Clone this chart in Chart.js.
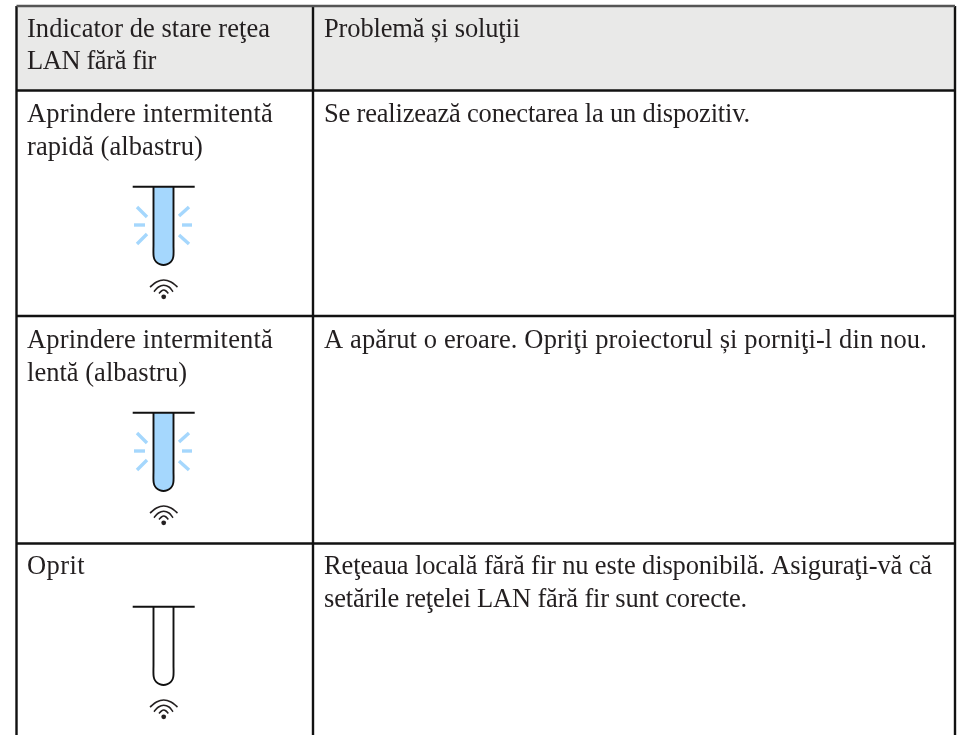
<!DOCTYPE html>
<html>
<head>
<meta charset="utf-8">
<title>Indicator de stare</title>
<script src="https://cdn.jsdelivr.net/npm/chart.js@4"></script>
<style>
  html, body { margin: 0; padding: 0; background: #fff; }
  canvas { display: block; }
</style>
</head>
<body>
<canvas id="tableChart" width="957" height="735"></canvas>
<script>
// table texts
const headerLeft = ["Indicator de stare reţea", "LAN fără fir"];
const headerRight = ["Problemă și soluţii"];
const statusLines = [
  ["Aprindere intermitentă", "rapidă (albastru)"],
  ["Aprindere intermitentă", "lentă (albastru)"],
  ["Oprit"],
];
const solutionLines = [
  ["Se realizează conectarea la un dispozitiv."],
  ["A apărut o eroare. Opriţi proiectorul și porniţi-l din nou."],
  ["Reţeaua locală fără fir nu este disponibilă. Asiguraţi-vă că", "setările reţelei LAN fără fir sunt corecte."],
];

// how wide each text line is in the picture
const headerLeftWidths = [243, 129];
const headerRightWidths = [196];
const statusWidths = [[246, 176], [246, 160], [58]];
const solutionWidths = [[426], [603], [608, 423]];

// table grid, in picture units
const columnEdges = [16.5, 313, 955];
const rowEdges = [6, 90.5, 316, 543.5, 735];
const rowBaselines = [36.7, 122, 348, 574];
const lineStep = 32.6;
const textLeft = [27, 324];

// indicator drawing, first row; the other rows are moved down by indicatorShift
const indicatorShift = [0, 226, 420];
const capX = [132.7, 194.7];
const capY = [186.8, 186.8];
const tubeX = [153.5, 153.5, 153.5, 154.3, 156.4, 159.6, 163.5, 167.4, 170.6, 172.7, 173.5, 173.5, 173.5];
const tubeY = [187, 245, 255, 259, 262.1, 264.2, 265, 264.2, 262.1, 259, 255, 245, 187];
const rayStartX = [137, 134, 137, 189, 182, 189];
const rayStartY = [207, 225, 244, 207, 225, 244];
const rayEndX = [147, 145, 147, 179, 192, 179];
const rayEndY = [217, 225, 234, 216, 225, 235];
const wifiArcX = [
  [150, 156.5, 163.7, 171, 177.5],
  [154, 158.5, 163.7, 169, 173],
  [159, 161.5, 163.7, 166, 168.3],
];
const wifiArcY = [
  [287, 282, 280, 282, 287],
  [291.7, 287, 285.3, 287, 291.7],
  [293.5, 291, 290, 291, 293.5],
];
const wifiDotX = [163.7];
const wifiDotY = [296.8];
const blinkRows = [true, true, false];

const gridColor = "#111111";
const inkColor = "#231f20";
const tubeBlue = "#a5d7fd";
const headerGray = "#e9e9e8";

function toPoints(xs, ys, shift) {
  return xs.map((x, i) => ({ x: x, y: ys[i] + (shift || 0) }));
}

function pathDataset(xs, ys, shift, extra) {
  return Object.assign(
    {
      data: toPoints(xs, ys, shift),
      showLine: true,
      fill: false,
      pointRadius: 0,
      borderColor: inkColor,
      borderWidth: 2,
    },
    extra
  );
}

let datasets = [];

// header background
datasets.push(
  pathDataset(
    [columnEdges[0], columnEdges[2], columnEdges[2], columnEdges[0], columnEdges[0]],
    [rowEdges[0], rowEdges[0], rowEdges[1], rowEdges[1], rowEdges[0]],
    0,
    { borderWidth: 0, fill: "shape", backgroundColor: headerGray }
  )
);

// grid lines
columnEdges.forEach((x) => {
  datasets.push(
    pathDataset([x, x], [rowEdges[0], rowEdges[rowEdges.length - 1]], 0, {
      borderColor: gridColor,
      borderWidth: 2.4,
    })
  );
});
rowEdges.slice(0, -1).forEach((y, i) => {
  datasets.push(
    pathDataset([columnEdges[0], columnEdges[2]], [y, y], 0, {
      borderColor: i === 0 ? "#555555" : gridColor,
      borderWidth: 2.4,
    })
  );
});

// the three indicators
indicatorShift.forEach((shift, row) => {
  if (blinkRows[row]) {
    rayStartX.forEach((x, i) => {
      datasets.push(
        pathDataset([x, rayEndX[i]], [rayStartY[i], rayEndY[i]], shift, {
          borderColor: tubeBlue,
          borderWidth: 3.4,
        })
      );
    });
  }
  datasets.push(
    pathDataset(tubeX, tubeY, shift, {
      borderColor: "#111111",
      borderWidth: 1.9,
      tension: 0.4,
      fill: blinkRows[row] ? "shape" : false,
      backgroundColor: tubeBlue,
    })
  );
  datasets.push(
    pathDataset(capX, capY, shift, { borderColor: "#111111", borderWidth: 1.9 })
  );
  wifiArcX.forEach((xs, i) => {
    datasets.push(
      pathDataset(xs, wifiArcY[i], shift, {
        borderWidth: 1.6,
        tension: 0.4,
      })
    );
  });
  datasets.push({
    data: toPoints(wifiDotX, wifiDotY, shift),
    showLine: false,
    pointRadius: 2.4,
    pointBackgroundColor: inkColor,
    pointBorderWidth: 0,
  });
});

// later datasets go on top
datasets.forEach((ds, i) => {
  ds.order = datasets.length - i;
});

// cell texts are placed through the same scales as the marks
const cellTextPlugin = {
  id: "cellText",
  afterDatasetsDraw(chart) {
    const ctx = chart.ctx;
    const xScale = chart.scales.x;
    const yScale = chart.scales.y;
    const writeCell = (lines, widths, col, row) => {
      lines.forEach((line, i) => {
        // stretch or squeeze a little so the line ends where it does in the picture
        ctx.letterSpacing = "0px";
        const natural = ctx.measureText(line).width;
        ctx.letterSpacing = (widths[i] - natural) / line.length + "px";
        ctx.fillText(
          line,
          xScale.getPixelForValue(textLeft[col]),
          yScale.getPixelForValue(rowBaselines[row] + i * lineStep)
        );
      });
    };
    ctx.save();
    ctx.fillStyle = inkColor;
    ctx.font = '26.5px "Liberation Serif"';
    ctx.textBaseline = "alphabetic";
    writeCell(headerLeft, headerLeftWidths, 0, 0);
    writeCell(headerRight, headerRightWidths, 1, 0);
    statusLines.forEach((lines, i) => writeCell(lines, statusWidths[i], 0, i + 1));
    solutionLines.forEach((lines, i) => writeCell(lines, solutionWidths[i], 1, i + 1));
    ctx.restore();
  },
};

new Chart(document.getElementById("tableChart").getContext("2d"), {
  type: "scatter",
  data: { datasets: datasets },
  options: {
    responsive: false,
    animation: false,
    layout: { padding: 0, autoPadding: false },
    plugins: { legend: { display: false }, tooltip: { enabled: false } },
    scales: {
      x: { type: "linear", display: false, min: 0, max: 957 },
      y: { type: "linear", display: false, min: 0, max: 735, reverse: true },
    },
  },
  plugins: [cellTextPlugin],
});
</script>
</body>
</html>
